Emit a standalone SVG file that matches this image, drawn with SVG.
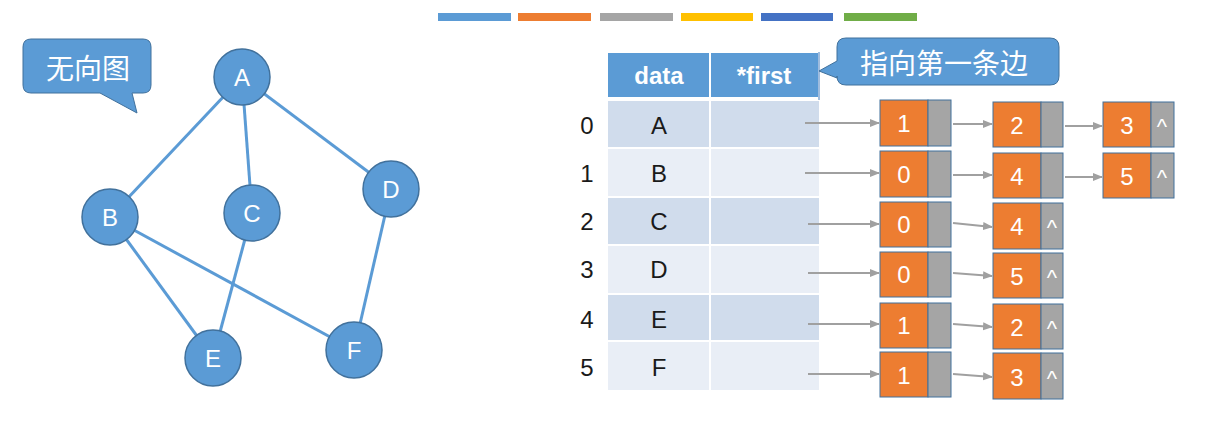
<svg xmlns="http://www.w3.org/2000/svg" width="1209" height="448" viewBox="0 0 1209 448">
<defs>
<style>
.gn{fill:#5B9BD5;stroke:#41719C;stroke-width:1.5}
.gt{font-family:"Liberation Sans",Arial,sans-serif;font-size:24px;fill:#fff;text-anchor:middle;dominant-baseline:central}
.ge{stroke:#5B9BD5;stroke-width:3;fill:none}
.cl{fill:#5B9BD5;stroke:#41719C;stroke-width:1}
.ct{font-family:"Noto Sans CJK SC",sans-serif;font-size:28px;fill:#fff;text-anchor:middle;dominant-baseline:central}
.ht{font-family:"Liberation Sans",Arial,sans-serif;font-size:24px;font-weight:bold;fill:#fff;text-anchor:middle;dominant-baseline:central}
.tt{font-family:"Liberation Sans",Arial,sans-serif;font-size:24px;fill:#1a1a1a;text-anchor:middle;dominant-baseline:central}
.ra{fill:#D0DCEC}
.rb{fill:#E9EEF6}
.or{fill:#ED7D31;stroke:#41719C;stroke-width:1}
.gr{fill:#A5A5A5;stroke:#41719C;stroke-width:1}
.nt{font-family:"Liberation Sans",Arial,sans-serif;font-size:24px;fill:#fff;text-anchor:middle;dominant-baseline:central}
.nl{font-family:"Liberation Sans",Arial,sans-serif;font-size:22px;fill:#fff;text-anchor:middle}
.ar{stroke:#A0A0A0;stroke-width:2;fill:none;marker-end:url(#ah)}
</style>
<marker id="ah" markerWidth="10" markerHeight="10" refX="9" refY="5" orient="auto" markerUnits="userSpaceOnUse">
<path d="M0,1 L10,5 L0,9 Z" fill="#A0A0A0"/>
</marker>
</defs>
<rect width="1209" height="448" fill="#fff"/>

<!-- legend bars -->
<g id="legend">
<rect x="438" y="13" width="73" height="8" fill="#5B9BD5"/>
<rect x="518" y="13" width="73" height="8" fill="#ED7D31"/>
<rect x="600" y="13" width="73" height="8" fill="#A5A5A5"/>
<rect x="681" y="13" width="72" height="8" fill="#FFC000"/>
<rect x="761" y="13" width="72" height="8" fill="#4472C4"/>
<rect x="844" y="13" width="73" height="8" fill="#70AD47"/>
</g>

<!-- callout 无向图 -->
<g id="callout-graph">
<path class="cl" d="M31,39 H143 Q151,39 151,47 V85 Q151,93 143,93 H132 L137,113 L100,93 H31 Q23,93 23,85 V47 Q23,39 31,39 Z"/>
<text class="ct" x="88" y="67">无向图</text>
</g>

<!-- graph edges -->
<g id="graph-edges">
<line class="ge" x1="242" y1="77" x2="110" y2="217"/>
<line class="ge" x1="242" y1="77" x2="252" y2="213"/>
<line class="ge" x1="242" y1="77" x2="391" y2="189"/>
<line class="ge" x1="110" y1="217" x2="213" y2="358"/>
<line class="ge" x1="110" y1="217" x2="354" y2="350"/>
<line class="ge" x1="252" y1="213" x2="213" y2="358"/>
<line class="ge" x1="391" y1="189" x2="354" y2="350"/>
</g>

<g id="node-A"><circle class="gn" cx="242" cy="77" r="28"/><text class="gt" x="242" y="77">A</text></g>
<g id="node-B"><circle class="gn" cx="110" cy="217" r="28"/><text class="gt" x="110" y="217">B</text></g>
<g id="node-C"><circle class="gn" cx="252" cy="213" r="28"/><text class="gt" x="252" y="213">C</text></g>
<g id="node-D"><circle class="gn" cx="391" cy="189" r="28"/><text class="gt" x="391" y="189">D</text></g>
<g id="node-E"><circle class="gn" cx="213" cy="358" r="28"/><text class="gt" x="213" y="358">E</text></g>
<g id="node-F"><circle class="gn" cx="354" cy="350" r="28"/><text class="gt" x="354" y="350">F</text></g>

<!-- table -->
<g id="table">
<rect x="608" y="53" width="101" height="44" fill="#5B9BD5"/>
<rect x="711" y="53" width="107" height="44" fill="#5B9BD5"/>
<text class="ht" x="659" y="75">data</text>
<text class="ht" x="764" y="75">*first</text>
<line x1="819" y1="52" x2="819" y2="100" stroke="#7FA6D3" stroke-width="1.5"/>

<rect class="ra" x="608" y="101" width="101" height="46"/><rect class="ra" x="711" y="101" width="108" height="46"/>
<rect class="rb" x="608" y="149" width="101" height="47"/><rect class="rb" x="711" y="149" width="108" height="47"/>
<rect class="ra" x="608" y="198" width="101" height="46"/><rect class="ra" x="711" y="198" width="108" height="46"/>
<rect class="rb" x="608" y="246" width="101" height="47"/><rect class="rb" x="711" y="246" width="108" height="47"/>
<rect class="ra" x="608" y="295" width="101" height="45"/><rect class="ra" x="711" y="295" width="108" height="45"/>
<rect class="rb" x="608" y="342" width="101" height="48"/><rect class="rb" x="711" y="342" width="108" height="48"/>

<text class="tt" x="659" y="125">A</text>
<text class="tt" x="659" y="173">B</text>
<text class="tt" x="659" y="221">C</text>
<text class="tt" x="659" y="269">D</text>
<text class="tt" x="659" y="319">E</text>
<text class="tt" x="659" y="367">F</text>

<text class="tt" x="587" y="125">0</text>
<text class="tt" x="587" y="173">1</text>
<text class="tt" x="587" y="221">2</text>
<text class="tt" x="587" y="269">3</text>
<text class="tt" x="587" y="319">4</text>
<text class="tt" x="587" y="367">5</text>
</g>

<!-- callout 指向第一条边 -->
<g id="callout-first">
<path class="cl" d="M846,38 H1050 Q1059,38 1059,47 V76 Q1059,85 1050,85 H846 Q837,85 837,76 V78 L819,71 L837,61 V47 Q837,38 846,38 Z"/>
<text class="ct" x="944" y="62">指向第一条边</text>
</g>

<!-- edge nodes -->
<g id="list-0">
<rect class="or" x="880" y="100" width="48" height="46"/><rect class="gr" x="928" y="100" width="23" height="46"/><text class="nt" x="904" y="123">1</text>
<rect class="or" x="993" y="102" width="48" height="45"/><rect class="gr" x="1041" y="102" width="22" height="45"/><text class="nt" x="1017" y="125">2</text>
<rect class="or" x="1103" y="102" width="48" height="45"/><rect class="gr" x="1151" y="102" width="23" height="45"/><text class="nt" x="1127" y="125">3</text><text class="nl" x="1162" y="134">^</text>
</g>
<g id="list-1">
<rect class="or" x="880" y="151" width="48" height="46"/><rect class="gr" x="928" y="151" width="23" height="46"/><text class="nt" x="904" y="174">0</text>
<rect class="or" x="993" y="153" width="48" height="45"/><rect class="gr" x="1041" y="153" width="22" height="45"/><text class="nt" x="1017" y="176">4</text>
<rect class="or" x="1103" y="153" width="48" height="45"/><rect class="gr" x="1151" y="153" width="23" height="45"/><text class="nt" x="1127" y="176">5</text><text class="nl" x="1162" y="185">^</text>
</g>
<g id="list-2">
<rect class="or" x="880" y="202" width="48" height="45"/><rect class="gr" x="928" y="202" width="23" height="45"/><text class="nt" x="904" y="224">0</text>
<rect class="or" x="993" y="203" width="48" height="46"/><rect class="gr" x="1041" y="203" width="22" height="46"/><text class="nt" x="1017" y="226">4</text><text class="nl" x="1052" y="235">^</text>
</g>
<g id="list-3">
<rect class="or" x="880" y="252" width="48" height="45"/><rect class="gr" x="928" y="252" width="23" height="45"/><text class="nt" x="904" y="274">0</text>
<rect class="or" x="993" y="253" width="48" height="45"/><rect class="gr" x="1041" y="253" width="22" height="45"/><text class="nt" x="1017" y="276">5</text><text class="nl" x="1052" y="285">^</text>
</g>
<g id="list-4">
<rect class="or" x="880" y="303" width="48" height="45"/><rect class="gr" x="928" y="303" width="23" height="45"/><text class="nt" x="904" y="325">1</text>
<rect class="or" x="993" y="304" width="48" height="45"/><rect class="gr" x="1041" y="304" width="22" height="45"/><text class="nt" x="1017" y="327">2</text><text class="nl" x="1052" y="336">^</text>
</g>
<g id="list-5">
<rect class="or" x="880" y="352" width="48" height="45"/><rect class="gr" x="928" y="352" width="23" height="45"/><text class="nt" x="904" y="375">1</text>
<rect class="or" x="993" y="353" width="48" height="46"/><rect class="gr" x="1041" y="353" width="22" height="46"/><text class="nt" x="1017" y="377">3</text><text class="nl" x="1052" y="386">^</text>
</g>

<!-- connectors -->
<g id="connectors">
<line class="ar" x1="805" y1="123" x2="879" y2="123"/>
<line class="ar" x1="805" y1="173" x2="879" y2="173"/>
<line class="ar" x1="808" y1="224" x2="879" y2="224"/>
<line class="ar" x1="808" y1="273" x2="879" y2="273"/>
<line class="ar" x1="808" y1="324" x2="879" y2="324"/>
<line class="ar" x1="808" y1="374" x2="879" y2="374"/>

<line class="ar" x1="953" y1="124" x2="992" y2="124"/>
<line class="ar" x1="953" y1="175" x2="992" y2="175"/>
<line class="ar" x1="953" y1="223" x2="992" y2="227"/>
<line class="ar" x1="953" y1="273" x2="992" y2="276"/>
<line class="ar" x1="953" y1="324" x2="992" y2="327"/>
<line class="ar" x1="953" y1="374" x2="992" y2="377"/>

<line class="ar" x1="1065" y1="126" x2="1102" y2="126"/>
<line class="ar" x1="1065" y1="177" x2="1102" y2="177"/>
</g>
</svg>
